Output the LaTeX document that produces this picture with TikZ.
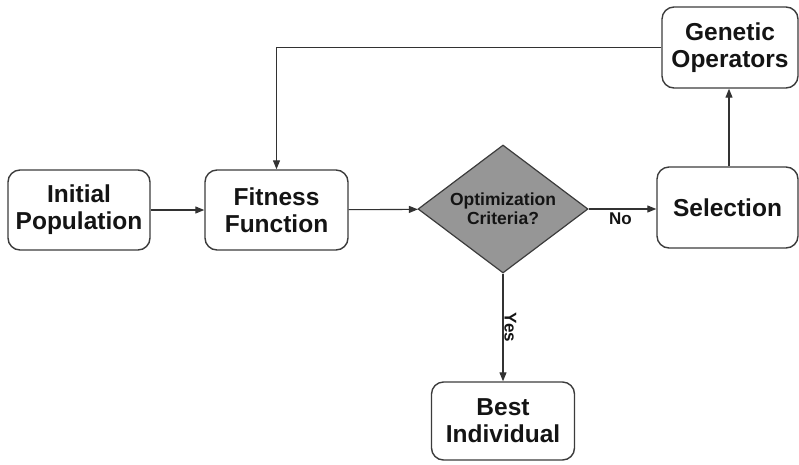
\documentclass[tikz,border=0pt]{standalone}
\usepackage{fontspec}
\setmainfont{Liberation Sans}
\usetikzlibrary{arrows.meta,shapes.geometric}
\definecolor{ink}{RGB}{20,20,20}
\definecolor{rim}{RGB}{60,60,60}
\definecolor{wire}{RGB}{50,50,50}
\definecolor{shade}{RGB}{150,150,150}
\tikzset{
  every picture/.style={color=ink, line width=1pt},
  box/.style={draw=rim, line width=1.4pt, rounded corners=12pt, fill=white, inner sep=0pt,
    minimum width=142pt, minimum height=80pt, align=center,
    font=\fontsize{24.5}{27}\selectfont\bfseries},
  test/.style={diamond, draw=rim, line width=1.2pt, fill=shade, inner sep=0pt, aspect=1.33,
    minimum width=170pt, minimum height=128pt, align=center,
    font=\fontsize{17.5}{19}\selectfont\bfseries},
  flow/.style={-{Triangle[length=9pt,width=7pt]}, line width=1.1pt, draw=wire},
  lbl/.style={font=\fontsize{17}{17}\selectfont\bfseries, inner sep=1pt},
}

\begin{document}
\begin{tikzpicture}[x=1pt, y=-1pt]
  \useasboundingbox (0,0) rectangle (799,464);
  % the main loop of the algorithm
  \node[box] (init) at (79,210) {Initial\\Population};
  \node[box, minimum width=143pt] (fit) at (276.5,210) {Fitness\\Function};
  \node[test] (crit) at (503,209) {Optimization\\Criteria?};
  \node[box, minimum width=141pt, minimum height=81pt] (sel) at (727.5,207.5) {Selection};
  \node[box, minimum width=136pt, minimum height=81pt] (gen) at (730,47.5) {Genetic\\Operators};
  \node[box, minimum width=143pt, minimum height=78pt] (best) at (503,421) {Best\\Individual};
  \coordinate (up) at (729,0);

  \draw[flow] (init) -- (fit);
  \draw[flow] (fit) -- (crit);
  \draw[flow] (crit.east) -- node[lbl, pos=0.47, below=2pt] {No} (sel.west |- crit.east);
  \draw[flow] (sel.north -| up) -- (gen.south -| up);
  \draw[flow] (gen.west) -| (fit.north);
  \draw[flow] (crit.south) -- node[lbl, pos=0.5, rotate=-90, anchor=south] {Yes} (best.north);
\end{tikzpicture}
\end{document}
